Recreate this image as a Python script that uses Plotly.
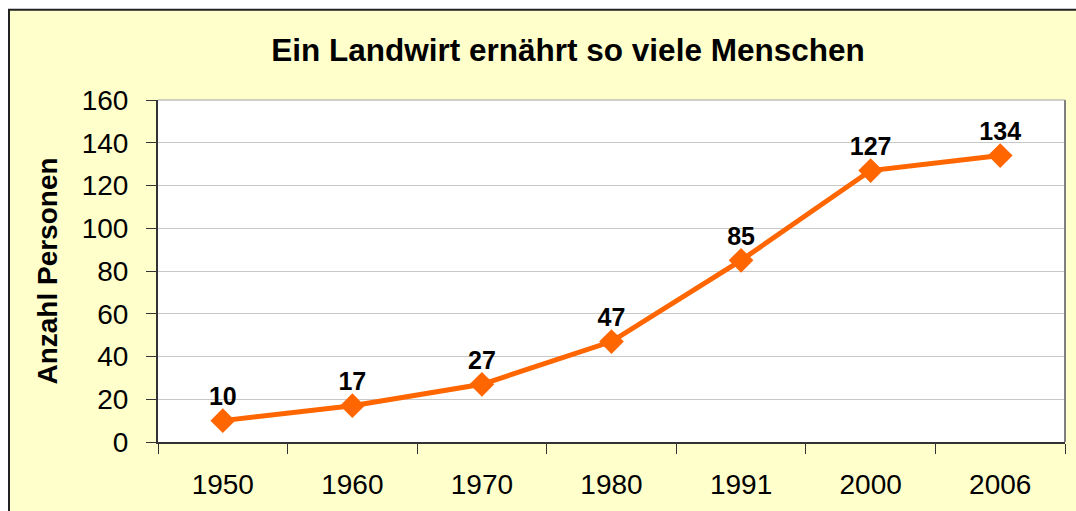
import plotly.graph_objects as go

years = ["1950", "1960", "1970", "1980", "1991", "2000", "2006"]
persons = [10, 17, 27, 47, 85, 127, 134]
y_ticks = [0, 20, 40, 60, 80, 100, 120, 140, 160]

FONT = "Liberation Sans, Arial, sans-serif"

# layout geometry in page pixels (body margin removed below)
W, H = 1076, 511
L, R, T, B = 158, 11, 100, 66
PW, PH = W - L - R, H - T - B


def px_x(px):
    return (px - L) / PW


def px_y(py):
    return (H - B - py) / PH


fig = go.Figure()
fig.add_trace(go.Scatter(
    x=years, y=persons,
    mode="lines+markers",
    line=dict(color="#FF6600", width=5),
    marker=dict(symbol="diamond", size=19, color="#FF6600"),
    cliponaxis=False,
    hoverinfo="x+y",
))
# data labels (slightly closer to the markers, as in the original)
fig.add_trace(go.Scatter(
    x=years, y=persons,
    mode="markers+text",
    marker=dict(symbol="diamond", size=13, color="rgba(0,0,0,0)"),
    text=[str(v) for v in persons],
    textposition="top center",
    textfont=dict(family=FONT, size=25, color="#000000", weight="bold"),
    cliponaxis=False,
    hoverinfo="skip",
))

fig.update_layout(
    width=W, height=H,
    margin=dict(l=L, r=R, t=T, b=B),
    paper_bgcolor="#FFFFFF",
    plot_bgcolor="#FFFFFF",
    showlegend=False,
    title=dict(
        text="<b>Ein Landwirt ernährt so viele Menschen</b>",
        xref="container", yref="container",
        x=568 / W, xanchor="center", y=1 - 50 / H, yanchor="middle",
        font=dict(family=FONT, size=31.5, color="#000000"),
    ),
    xaxis=dict(
        type="category",
        range=[-0.5, 6.5],
        tickson="boundaries",
        ticks="outside", ticklen=10, tickcolor="#333333", tickwidth=1,
        showgrid=False,
        showline=True, linecolor="#333333", linewidth=2,
        tickfont=dict(family=FONT, size=28, color="#000000"),
        ticklabelstandoff=16,
        fixedrange=True,
    ),
    yaxis=dict(
        range=[0, 160],
        tickvals=y_ticks,
        ticks="outside", ticklen=10, tickcolor="#333333", tickwidth=1,
        showgrid=True, gridcolor="#C8C8C8", gridwidth=1,
        showline=True, linecolor="#333333", linewidth=2,
        zeroline=False,
        tickfont=dict(family=FONT, size=28, color="#000000"),
        ticklabelstandoff=12,
        title=dict(text="<b>Anzahl Personen</b>", standoff=16,
                   font=dict(family=FONT, size=28, color="#000000")),
        fixedrange=True,
    ),
    shapes=[
        # yellow chart area with dark frame (right/bottom edges run off the page)
        dict(type="rect", xref="paper", yref="paper", layer="below",
             x0=px_x(9), x1=px_x(W + 20), y0=px_y(H + 20), y1=px_y(9),
             fillcolor="#FFFFCC", line=dict(color="#222222", width=2)),
        # white plot area
        dict(type="rect", xref="paper", yref="paper", layer="below",
             x0=0, x1=1, y0=0, y1=1,
             fillcolor="#FFFFFF", line=dict(width=0)),
        # grey right and top borders of plot area
        dict(type="line", xref="paper", yref="paper", x0=1, x1=1, y0=0, y1=1,
             line=dict(color="#808080", width=2)),
        dict(type="line", xref="paper", yref="paper", x0=0, x1=1, y0=1, y1=1,
             line=dict(color="#A0A0A0", width=1)),
    ],
)

fig.write_html(
    "out.html",
    default_width=f"{W}px",
    default_height=f"{H}px",
    config={"displayModeBar": False},
    post_script="document.body.style.margin='0';"
                "document.documentElement.style.overflow='hidden';"
                "document.body.style.overflow='hidden';",
)
